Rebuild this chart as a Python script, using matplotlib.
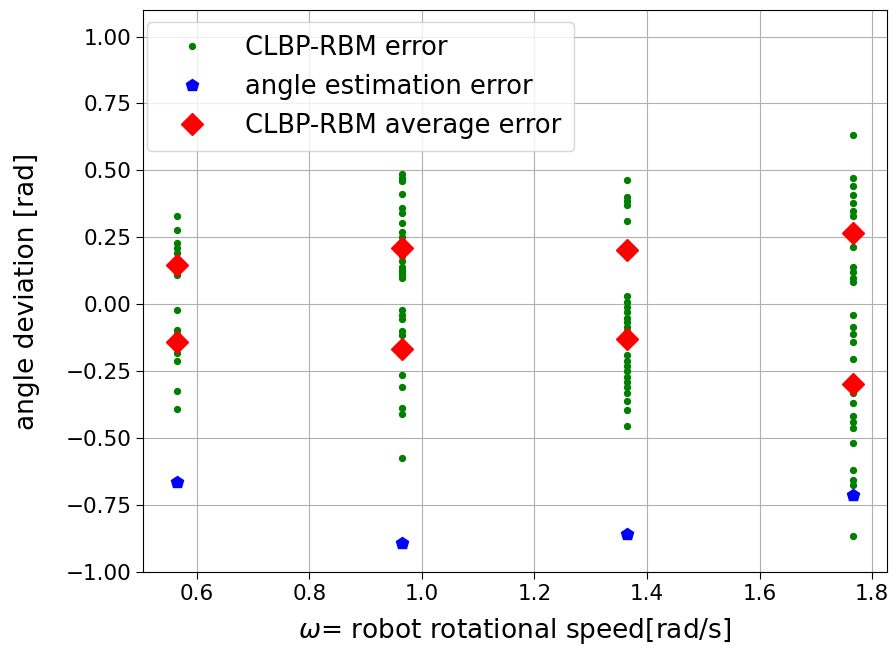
import matplotlib
matplotlib.use("Agg")
import matplotlib.pyplot as plt

# rotational speeds [rad/s]
speeds = [0.565, 0.965, 1.365, 1.766]

# CLBP-RBM per-sample angle errors at each speed [rad]
err_w1 = [0.33, 0.276, 0.23, 0.21, 0.19, 0.17, 0.15, 0.13, 0.12, 0.11,
          -0.02, -0.095, -0.11, -0.13, -0.15, -0.18, -0.21, -0.325, -0.39]
err_w2 = [0.485, 0.47, 0.46, 0.413, 0.36, 0.34, 0.305, 0.27, 0.25, 0.18,
          0.16, 0.14, 0.13, 0.12, 0.11, 0.10, -0.02, -0.04, -0.055, -0.10,
          -0.115, -0.264, -0.307, -0.387, -0.41, -0.575]
err_w3 = [0.465, 0.40, 0.385, 0.37, 0.313, 0.032, 0.01, -0.01, -0.03, -0.05,
          -0.065, -0.083, -0.10, -0.19, -0.21, -0.23, -0.25, -0.27, -0.29,
          -0.31, -0.33, -0.36, -0.394, -0.454]
err_w4 = [0.633, 0.473, 0.44, 0.41, 0.38, 0.35, 0.33, 0.215, 0.14, 0.12,
          0.10, 0.085, -0.04, -0.085, -0.11, -0.14, -0.205, -0.33, -0.37,
          -0.416, -0.44, -0.46, -0.518, -0.62, -0.655, -0.675, -0.865]

# average errors (positive and negative cluster) per speed
avg_pos = [0.148, 0.21, 0.204, 0.267]
avg_neg = [-0.139, -0.167, -0.129, -0.297]

# angle estimation error per speed
est_err = [-0.665, -0.89, -0.858, -0.712]

plt.rcParams["font.family"] = ["DejaVu Sans"]

fig = plt.figure(figsize=(8.95, 6.48), dpi=100)
ax = fig.add_axes([0.16, 0.117, 0.831, 0.868])

groups = [err_w1, err_w2, err_w3, err_w4]
first = True
for w, errs in zip(speeds, groups):
    ax.plot([w] * len(errs), errs, ".", color="green", markersize=8.5,
            label="CLBP-RBM error" if first else None)
    first = False

ax.plot(speeds, est_err, "p", color="blue", markersize=9,
        label="angle estimation error")
ax.plot(speeds + speeds, avg_pos + avg_neg, "D", color="red", markersize=11,
        label="CLBP-RBM average error")

ax.set_ylim(-1.0, 1.1)
ax.set_yticks([-1.0, -0.75, -0.5, -0.25, 0.0, 0.25, 0.5, 0.75, 1.0])
ax.set_xticks([0.6, 0.8, 1.0, 1.2, 1.4, 1.6, 1.8])
ax.tick_params(labelsize=15.5, length=5)
ax.grid(True, color="#b0b0b0")
ax.set_xlabel(r"$\omega$= robot rotational speed[rad/s]", fontsize=19,
              labelpad=9)
ax.set_ylabel("angle deviation [rad]", fontsize=19, labelpad=18)
ax.legend(loc="upper left", bbox_to_anchor=(0.005, 0.978), borderaxespad=0,
          fontsize=18.5, handlelength=2.5, borderpad=0.5)

fig.savefig("out.png", dpi=100)
